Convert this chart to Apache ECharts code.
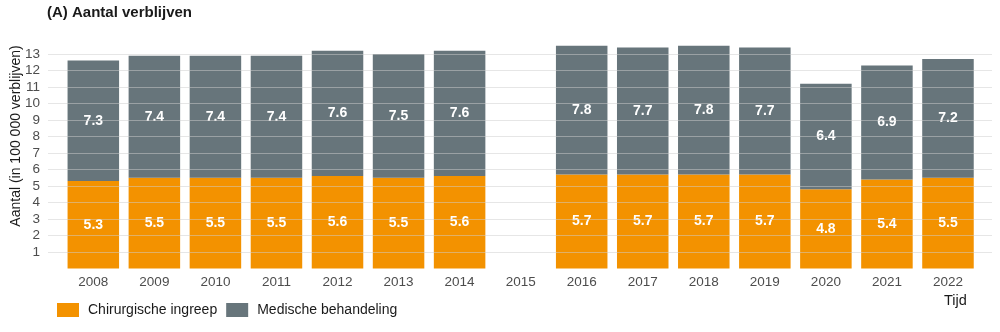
<!DOCTYPE html>
<html>
<head>
<meta charset="utf-8">
<script src="https://cdn.jsdelivr.net/npm/echarts@6/dist/echarts.min.js"></script>
<style>html,body{margin:0;padding:0;background:#fff}#c{width:1000px;height:332px}</style>
</head>
<body>
<div id="c"></div>
<script>
const categories = ['2008','2009','2010','2011','2012','2013','2014','2015','2016','2017','2018','2019','2020','2021','2022'];
const chirurgisch = [5.3,5.5,5.5,5.5,5.6,5.5,5.6,null,5.7,5.7,5.7,5.7,4.8,5.4,5.5];
const medisch = [7.3,7.4,7.4,7.4,7.6,7.5,7.6,null,7.8,7.7,7.8,7.7,6.4,6.9,7.2];
const seriesNames = ['Chirurgische ingreep','Medische behandeling'];
const yTicks = [1,2,3,4,5,6,7,8,9,10,11,12,13];

const FONT = '"Liberation Sans", Arial, sans-serif';
const chart = echarts.init(document.getElementById('c'), null, {renderer:'canvas'});
const gTop = 37.5, gBottom = 63.5;
const labelCfg = {show:true, position:'inside', color:'#fff', fontWeight:'bold', fontSize:14, fontFamily:FONT,
  formatter: p => (p.value==null ? '' : Number(p.value).toFixed(1))};
chart.setOption({
  animation:false,
  backgroundColor:'#fff',
  title:{text:'(A) Aantal verblijven', left:47, top:1, padding:[4,0,0,0], textStyle:{fontSize:15, fontWeight:'bold', color:'#1a1a1a', fontFamily:FONT}},
  grid:[
    {left:48, right:8, top:gTop, bottom:gBottom},
    {left:62.8, right:21.5, top:gTop, bottom:gBottom}
  ],
  xAxis:[
    {type:'category', gridIndex:0, data:categories, show:false},
    {type:'category', gridIndex:1, data:categories, axisLine:{show:false}, axisTick:{show:false},
     axisLabel:{color:'#4d4d4d', fontSize:13.5, fontFamily:FONT, margin:7}}
  ],
  yAxis:[
    {type:'value', gridIndex:0, min:0, max:14, interval:1, z:5,
     axisLine:{show:false}, axisTick:{show:false},
     axisLabel:{color:'#4d4d4d', fontSize:13.5, fontFamily:FONT, margin:8,
       formatter: v => (yTicks.indexOf(v) >= 0 ? String(v) : '')},
     splitLine:{show:true, showMinLine:false, showMaxLine:false, lineStyle:{color:'rgba(205,205,205,0.5)', width:1}}},
    {type:'value', gridIndex:1, min:0, max:14, interval:1, show:false, splitLine:{show:false}}
  ],
  legend:{left:52, top:298, itemWidth:22, itemHeight:14, itemGap:9, icon:'rect',
    textStyle:{fontSize:14, color:'#1a1a1a', fontFamily:FONT, padding:[0,0,0,4]},
    data:seriesNames},
  series:[
    {name:seriesNames[0], type:'bar', stack:'a', xAxisIndex:1, yAxisIndex:1, data:chirurgisch,
     barCategoryGap:'15.6%', itemStyle:{color:'#F39200'}, label:labelCfg, z:2},
    {name:seriesNames[1], type:'bar', stack:'a', xAxisIndex:1, yAxisIndex:1, data:medisch,
     barCategoryGap:'15.6%', itemStyle:{color:'#67757B'}, label:labelCfg, z:2}
  ],
  graphic:[
    {type:'text', left:944, top:293, style:{text:'Tijd', fontSize:14.5, fill:'#1a1a1a', fontFamily:FONT}},
    {type:'text', x:16, y:136, rotation:Math.PI/2,
     style:{text:'Aantal (in 100 000 verblijven)', fontSize:14, fill:'#1a1a1a', fontFamily:FONT, align:'center', verticalAlign:'middle'}}
  ]
});
</script>
</body>
</html>
